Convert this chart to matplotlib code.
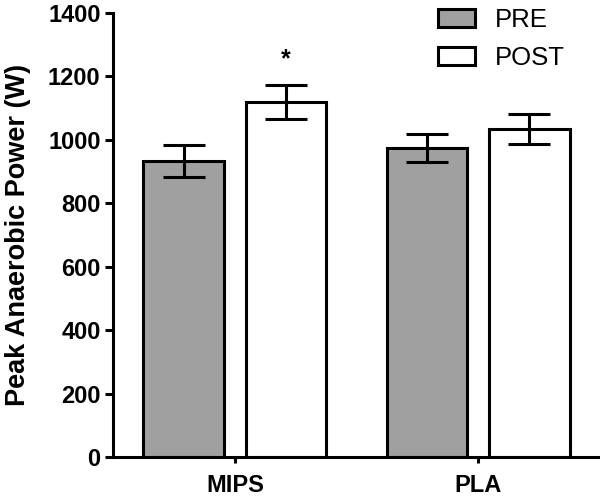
import matplotlib
matplotlib.use("Agg")
import matplotlib.pyplot as plt
import numpy as np

plt.rcParams['font.family'] = ['Liberation Sans', 'DejaVu Sans']

groups = ["MIPS", "PLA"]
pre_mean = [933, 975]
pre_err = [50, 45]
post_mean = [1120, 1035]
post_err = [53, 48]
yticks = [0, 200, 400, 600, 800, 1000, 1200, 1400]

fig = plt.figure(figsize=(6.0, 4.96), dpi=100)
ax = fig.add_axes([113/600, 39/496, 487/600, 444/496])

x = np.arange(len(groups))
off = 0.21
w = 0.333
lw = 2.2
ax.bar(x - off, pre_mean, w, color='#a0a0a0', edgecolor='black', linewidth=lw, label='PRE', zorder=2)
ax.bar(x + off, post_mean, w, color='white', edgecolor='black', linewidth=lw, label='POST', zorder=2)
ax.errorbar(x - off, pre_mean, yerr=pre_err, fmt='none', ecolor='black', elinewidth=lw,
            capsize=15, capthick=lw, zorder=3)
ax.errorbar(x + off, post_mean, yerr=post_err, fmt='none', ecolor='black', elinewidth=lw,
            capsize=15, capthick=lw, zorder=3)

ax.text(x[0] + off, post_mean[0] + post_err[0] + 80, '*', ha='center', va='center',
        fontsize=18, fontweight='bold')

ax.set_ylim(0, 1400)
ax.set_xlim(-0.502, 1.502)
ax.set_yticks(yticks)
ax.set_xticks(x)
ax.set_xticklabels(groups, fontsize=17, fontweight='bold')
for lab in ax.get_yticklabels():
    lab.set_fontsize(17)
    lab.set_fontweight('bold')
ax.set_ylabel('Peak Anaerobic Power (W)', fontsize=19.5, fontweight='bold', labelpad=12)

for s in ['top', 'right']:
    ax.spines[s].set_visible(False)
for s in ['left', 'bottom']:
    ax.spines[s].set_linewidth(lw)
ax.tick_params(axis='y', length=6, width=lw, pad=3)
ax.tick_params(axis='x', length=4, width=lw, pad=8)

leg = ax.legend(loc='upper left', bbox_to_anchor=(0.646, 1.035), frameon=False, fontsize=18.5,
                handlelength=1.44, handleheight=0.7, labelspacing=0.55, handletextpad=0.78,
                borderaxespad=0.0)

fig.savefig('out.png', dpi=100)
